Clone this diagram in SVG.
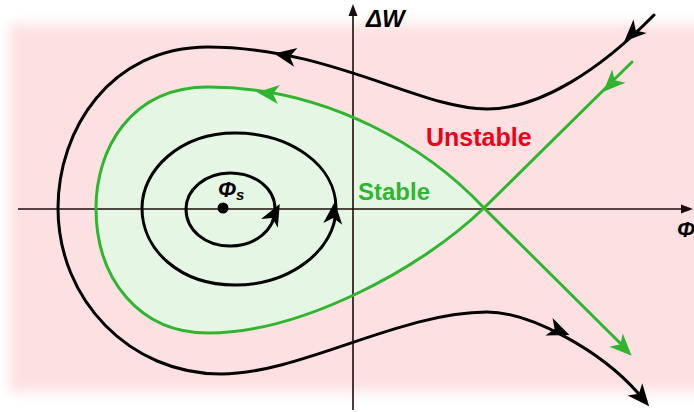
<svg xmlns="http://www.w3.org/2000/svg" width="694" height="412" viewBox="0 0 694 412">
<style>
.bk{fill:none;stroke:#000;stroke-width:3;stroke-linecap:round}
.gr{fill:none;stroke:#2fb52f;stroke-width:3;stroke-linecap:round}
.ax{fill:none;stroke:#1e0c0c;stroke-width:1.6}
.ab{fill:#000}
.ag{fill:#2fb52f}
.lbl{font-family:"Liberation Sans",Arial,sans-serif;font-weight:bold}
</style>
<defs>
<filter id="soft" x="-5%" y="-5%" width="110%" height="110%"><feGaussianBlur stdDeviation="6"/></filter>
<path id="ah" d="M8,0 L-14,-9.5 L-8,0 L-14,9.5 Z"/>
<path id="aa" d="M3,0 L-9,-4.5 L-9,4.5 Z"/>
</defs>
<rect width="694" height="412" fill="#fff"/>
<rect id="bg" x="9" y="24" width="720" height="368" fill="#fde1e2" filter="url(#soft)"/>
<g id="stable-region">
<path d="M484,208 C430,150 330,87 208,87 C130,87 96,150 96,208 C96,280 140,333 208,333 C300,333 420,270 484,208 Z" fill="#e6f6e4"/>
</g>
<g id="axes">
<line class="ax" x1="18" y1="209" x2="684" y2="209"/>
<use href="#aa" fill="#1e0c0c" transform="translate(690,209)"/>
<line class="ax" x1="353" y1="410" x2="353" y2="14"/>
<use href="#aa" fill="#1e0c0c" transform="translate(353,7) rotate(-90)"/>
</g>
<g id="connectors">
<path id="separatrix" class="gr" d="M484,208 C430,150 330,87 208,87 C130,87 96,150 96,208 C96,280 140,333 208,333 C300,333 420,270 484,208"/>
<path id="green-line" class="gr" d="M632,62 L484,208 L620,343"/>
<path id="outer" class="bk" d="M654,15 C600,70 540,109 487,109 C420,109 330,47 208,47 C110,47 58,130 58,208 C58,300 130,374 221,374 C300,374 400,312 487,312 C530,312 600,350 638,393"/>
<path id="middle" class="bk" d="M336,208 C336,165 290,133 235,133 C180,133 142,170 142,208 C142,250 180,285 235,285 C290,285 336,250 336,208 Z"/>
<path id="inner" class="bk" d="M275,209 C275,188 255,173 230,173 C205,173 186,190 186,209 C186,230 205,246 230,246 C255,246 275,230 275,209 Z"/>
<use href="#ah" class="ag" transform="translate(265,93) rotate(186)"/>
<use href="#ah" class="ag" transform="translate(609,86) rotate(135)"/>
<use href="#ah" class="ag" transform="translate(626,350) rotate(45)"/>
<use href="#ah" class="ab" transform="translate(630,36) rotate(136)"/>
<use href="#ah" class="ab" transform="translate(282,55) rotate(190)"/>
<use href="#ah" class="ab" transform="translate(562,332) rotate(22)"/>
<use href="#ah" class="ab" transform="translate(644,400) rotate(50)"/>
<use href="#ah" class="ab" transform="translate(334,210) rotate(-85)"/>
<use href="#ah" class="ab" transform="translate(276,211) rotate(-62)"/>
</g>
<g id="fixed-point">
<circle cx="223" cy="208" r="5.5" fill="#000"/>
<text class="lbl" x="218" y="197" font-size="22" font-style="italic">Φ<tspan font-size="15" dy="3">s</tspan></text>
</g>
<g id="labels">
<text class="lbl" x="366" y="27" font-size="24" font-style="italic">ΔW</text>
<text class="lbl" x="677" y="237" font-size="22" font-style="italic">Φ</text>
<text class="lbl" x="358" y="200" font-size="24" fill="#2fb52f">Stable</text>
<text class="lbl" x="426" y="146" font-size="25" fill="#f00018">Unstable</text>
</g>
</svg>
